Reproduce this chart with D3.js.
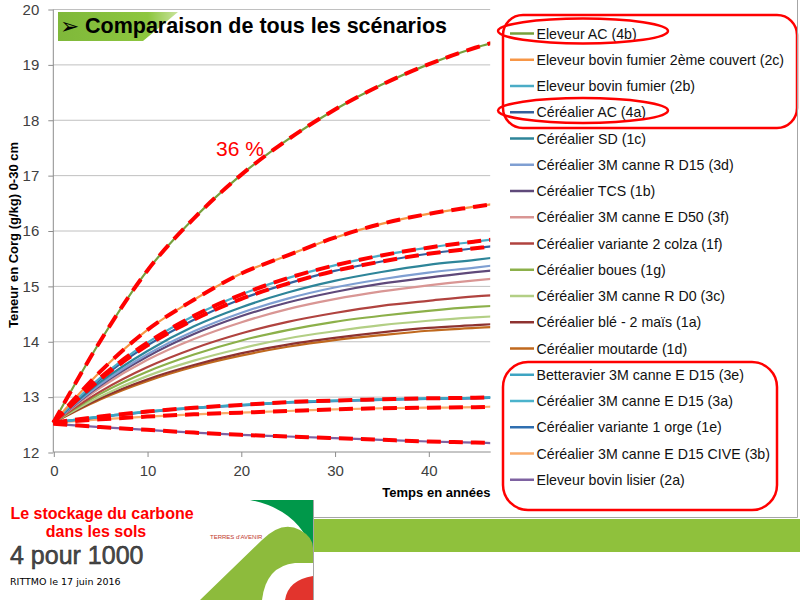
<!DOCTYPE html>
<html><head><meta charset="utf-8">
<script src="https://cdn.jsdelivr.net/npm/d3@7"></script>
<style>body{margin:0;background:#fff}svg{display:block}</style>
</head><body>
<svg id="chart" width="800" height="600"></svg>
<script>
// ---------- DATA ----------
const years = [0, 5, 10, 15, 20, 25, 30, 35, 40, 45, 47];
const seriesNames = [
  "Eleveur AC (4b)", "Eleveur bovin fumier 2ème couvert (2c)", "Eleveur bovin fumier (2b)",
  "Céréalier AC (4a)", "Céréalier SD (1c)", "Céréalier 3M canne R D15 (3d)", "Céréalier TCS (1b)",
  "Céréalier 3M canne E D50 (3f)", "Céréalier variante 2 colza (1f)", "Céréalier boues (1g)",
  "Céréalier 3M canne R D0 (3c)", "Céréalier blé - 2 maïs (1a)", "Céréalier moutarde (1d)",
  "Betteravier 3M canne E D15 (3e)", "Céréalier 3M canne E D15 (3a)", "Céréalier variante 1 orge (1e)",
  "Céréalier 3M canne E D15 CIVE (3b)", "Eleveur bovin lisier (2a)"
];
const seriesColors = [
  "#77a03c", "#f79646", "#4bacc6", "#35609c", "#2e8599", "#7f9fd2", "#5f497a",
  "#d99694", "#b0433f", "#8cb04a", "#b3cf85", "#8e3230", "#c0691e",
  "#3ea4c2", "#4bb3cc", "#2f6fb0", "#f9ab6b", "#7e62a1"
];
const v4b = [12.53, 14.00, 15.27, 16.22, 17.00, 17.64, 18.18, 18.63, 19.00, 19.30, 19.40];
const v2c = [12.53, 13.45, 14.20, 14.75, 15.22, 15.55, 15.87, 16.12, 16.30, 16.43, 16.48];
const v2b = [12.53, 13.34, 13.97, 14.46, 14.84, 15.14, 15.37, 15.55, 15.69, 15.80, 15.84];
const v4a = [12.53, 13.31, 13.92, 14.39, 14.76, 15.04, 15.27, 15.44, 15.58, 15.68, 15.72];
const v1c = [12.53, 13.26, 13.82, 14.27, 14.61, 14.88, 15.09, 15.25, 15.38, 15.47, 15.51];
const v3d = [12.53, 13.22, 13.76, 14.18, 14.51, 14.77, 14.97, 15.12, 15.24, 15.33, 15.37];
const v1b = [12.53, 13.20, 13.72, 14.13, 14.45, 14.70, 14.89, 15.04, 15.15, 15.25, 15.28];
const v3f = [12.53, 13.16, 13.66, 14.04, 14.34, 14.58, 14.76, 14.90, 15.01, 15.10, 15.13];
const v1f = [12.53, 13.09, 13.53, 13.87, 14.14, 14.35, 14.51, 14.64, 14.73, 14.81, 14.83];
const v1g = [12.53, 13.05, 13.45, 13.76, 14.01, 14.20, 14.35, 14.46, 14.55, 14.62, 14.64];
const v3c = [12.53, 13.00, 13.37, 13.65, 13.87, 14.05, 14.18, 14.29, 14.37, 14.43, 14.45];
const v1a = [12.53, 12.97, 13.31, 13.57, 13.78, 13.94, 14.06, 14.16, 14.24, 14.29, 14.31];
const v1d = [12.53, 12.95, 13.28, 13.54, 13.74, 13.90, 14.02, 14.11, 14.19, 14.24, 14.26];
const v3e = [12.53, 12.64, 12.73, 12.80, 12.85, 12.90, 12.93, 12.95, 12.97, 12.98, 12.99];
const v3a = [12.53, 12.64, 12.73, 12.80, 12.85, 12.90, 12.93, 12.95, 12.97, 12.98, 12.99];
const v1e = [12.53, 12.63, 12.72, 12.79, 12.84, 12.89, 12.92, 12.94, 12.96, 12.97, 12.98];
const v3b = [12.53, 12.59, 12.64, 12.68, 12.71, 12.74, 12.77, 12.79, 12.80, 12.81, 12.82];
const v2a = [12.51, 12.45, 12.40, 12.35, 12.31, 12.28, 12.25, 12.22, 12.19, 12.17, 12.16];
const seriesValues = [v4b, v2c, v2b, v4a, v1c, v3d, v1b, v3f, v1f, v1g, v3c, v1a, v1d, v3e, v3a, v1e, v3b, v2a];
// series highlighted by red dashed overlays
const highlighted = ["Eleveur AC (4b)", "Eleveur bovin fumier 2ème couvert (2c)", "Eleveur bovin fumier (2b)",
  "Céréalier AC (4a)", "Betteravier 3M canne E D15 (3e)", "Céréalier 3M canne E D15 CIVE (3b)", "Eleveur bovin lisier (2a)"];
const xTicks = [0, 10, 20, 30, 40];
const yTicks = [12, 13, 14, 15, 16, 17, 18, 19, 20];
const titleText = "Comparaison de tous les scénarios";
const yTitle = "Teneur en Corg (g/kg) 0-30 cm";
const xTitle = "Temps en années";
const annotation = "36 %";

// ---------- BUILD ----------
const series = seriesNames.map((name, i) => ({
  name, color: seriesColors[i],
  points: years.map((t, j) => ({t, v: seriesValues[i][j]}))
}));

const svg = d3.select("#chart");
const W = 800, H = 600;
svg.append("rect").attr("width", W).attr("height", H).attr("fill", "#fff");

const x = d3.scaleLinear().domain([0, 46.6]).range([53.3, 490.2]);
const y = d3.scaleLinear().domain([12, 20]).range([452, 9]);

const defs = svg.append("defs");
defs.append("clipPath").attr("id", "plotclip").append("rect")
  .attr("x", x(0) - 14).attr("y", 0).attr("width", x(46.6) - x(0) + 14).attr("height", 470);
const gradT = defs.append("linearGradient").attr("id", "titleGrad").attr("x1", 0).attr("x2", 1);
gradT.append("stop").attr("offset", 0).attr("stop-color", "#7fb83a");
gradT.append("stop").attr("offset", 0.75).attr("stop-color", "#8dc63f");
gradT.append("stop").attr("offset", 1).attr("stop-color", "#c9e39c");

// gridlines
svg.append("g").selectAll("line").data(yTicks.filter(d => d !== 12)).join("line")
  .attr("x1", x(0)).attr("x2", x(46.6)).attr("y1", d => y(d) + 0.5).attr("y2", d => y(d) + 0.5)
  .attr("stroke", "#c0c0c0").attr("stroke-width", 1);

// axes
const axisFont = "'Liberation Sans', Arial, sans-serif";
const yAxis = svg.append("g").attr("transform", `translate(${x(0)},0.5)`)
  .call(d3.axisLeft(y).tickValues(yTicks).tickSize(5).tickPadding(9).tickFormat(d3.format("d")));
const xAxis = svg.append("g").attr("transform", `translate(0.5,${y(12)})`)
  .call(d3.axisBottom(x).tickValues(xTicks).tickSize(5).tickPadding(8).tickFormat(d3.format("d")));
[yAxis, xAxis].forEach(g => {
  g.select(".domain").attr("stroke", "#8c8c8c");
  g.selectAll(".tick line").attr("stroke", "#8c8c8c");
  g.selectAll(".tick text").attr("fill", "#404040").attr("font-size", 15).attr("font-family", axisFont);
});
xAxis.select(".domain").attr("d", `M${x(0)},0H${x(46.6)}`);
yAxis.select(".domain").attr("d", `M0,${y(20)}V${y(12)}`);

// lines
const line = d3.line().x(d => x(d.t)).y(d => y(d.v)).curve(d3.curveMonotoneX);
const plot = svg.append("g").attr("clip-path", "url(#plotclip)");
const drawOrder = series.slice().reverse();
plot.selectAll("path.s").data(drawOrder).join("path").attr("class", "s")
  .attr("d", d => line(d.points)).attr("fill", "none")
  .attr("stroke", d => d.color).attr("stroke-width", 2.2);
plot.selectAll("path.h").data(series.filter(s => highlighted.includes(s.name))).join("path").attr("class", "h")
  .attr("d", d => line(d.points)).attr("fill", "none")
  .attr("stroke", "#ff0000").attr("stroke-width", 4).attr("stroke-dasharray", "14,8");

// annotation
svg.append("text").attr("x", 216).attr("y", 156).attr("fill", "#ff0000")
  .attr("font-family", axisFont).attr("font-size", 21).text(annotation);

// axis titles
svg.append("text").attr("transform", "translate(18,235) rotate(-90)").attr("text-anchor", "middle")
  .attr("font-family", axisFont).attr("font-weight", "bold").attr("font-size", 13).attr("fill", "#000")
  .text(yTitle);
svg.append("text").attr("x", 490.5).attr("y", 497).attr("text-anchor", "end")
  .attr("font-family", axisFont).attr("font-weight", "bold").attr("font-size", 13).attr("fill", "#000")
  .text(xTitle);

// title
svg.append("path").attr("d", "M58,12H178L143,41H58Z").attr("fill", "url(#titleGrad)");
svg.append("text").attr("x", 60).attr("y", 34).attr("font-family", "'DejaVu Sans', sans-serif")
  .attr("font-size", 23).attr("font-weight", "bold").attr("fill", "#000").text("➢");
svg.append("text").attr("x", 85).attr("y", 33).attr("font-family", axisFont).attr("font-weight", "bold")
  .attr("font-size", 21.5).attr("fill", "#000").text(titleText);

// legend
const legend = svg.append("g");
legend.selectAll("g").data(series).join("g")
  .attr("transform", (d, i) => `translate(0,${33.5 + 26.25 * i})`)
  .each(function (d) {
    const g = d3.select(this);
    g.append("line").attr("x1", 510).attr("x2", 534).attr("stroke", d.color).attr("stroke-width", 2.5);
    g.append("text").attr("x", 536.5).attr("dy", "0.36em").attr("font-family", axisFont)
      .attr("font-size", 14.2).attr("fill", "#111").text(d.name);
  });

// red annotation frames on legend
const redFrames = svg.append("g").attr("fill", "none").attr("stroke", "#ff0000").attr("stroke-width", 2.5);
redFrames.append("rect").attr("x", 503).attr("y", 15).attr("width", 294).attr("height", 113).attr("rx", 20);
redFrames.append("ellipse").attr("cx", 583).attr("cy", 31).attr("rx", 85).attr("ry", 12.5);
redFrames.append("ellipse").attr("cx", 583).attr("cy", 110.5).attr("rx", 85).attr("ry", 12.5);
redFrames.append("rect").attr("x", 503).attr("y", 362).attr("width", 274).attr("height", 148).attr("rx", 25);

// slide frame
svg.append("path").attr("d", "M797.5,0V517.5H313").attr("fill", "none").attr("stroke", "#a6a6a6").attr("stroke-width", 1);
svg.append("rect").attr("x", 313).attr("y", 519).attr("width", 487).attr("height", 33).attr("fill", "#8fc13c");

// bottom-left block
svg.append("rect").attr("x", 0).attr("y", 500).attr("width", 313).attr("height", 100).attr("fill", "#fff");
svg.append("text").attr("x", 102).attr("y", 519).attr("text-anchor", "middle").attr("font-family", axisFont)
  .attr("font-weight", "bold").attr("font-size", 16).attr("fill", "#ff0000").text("Le stockage du carbone");
svg.append("text").attr("x", 96).attr("y", 537).attr("text-anchor", "middle").attr("font-family", axisFont)
  .attr("font-weight", "bold").attr("font-size", 16).attr("fill", "#ff0000").text("dans les sols");
svg.append("text").attr("x", 10).attr("y", 564).attr("font-family", "'Liberation Sans Narrow', 'Liberation Sans', sans-serif")
  .attr("font-size", 25).attr("fill", "#4a4a4a").attr("stroke", "#222").attr("stroke-width", 0.5).text("4 pour 1000");
svg.append("text").attr("x", 10).attr("y", 585).attr("font-family", "'DejaVu Sans', sans-serif")
  .attr("font-size", 9.5).attr("fill", "#000").text("RITTMO le 17 juin 2016");

// logo
const logo = svg.append("g");
logo.append("path").attr("d", "M250,500H313V553Q300,510 250,500Z").attr("fill", "#00984a");
logo.append("path").attr("d", "M200,600L262,540Q282,520 300,530Q313,537 313,548V600Z").attr("fill", "#8dbb3c");
logo.append("path").attr("d", "M262,600Q266,566 295,563H313V600Z").attr("fill", "#fff");
logo.append("path").attr("d", "M285,600Q288,580 313,576V600Z").attr("fill", "#e2342d");
logo.append("text").attr("x", 210).attr("y", 539).attr("font-family", axisFont).attr("font-size", 6)
  .attr("fill", "#c0392b").text("TERRES d'AVENIR");
svg.append("line").attr("x1", 313.5).attr("x2", 313.5).attr("y1", 500).attr("y2", 600).attr("stroke", "#a6a6a6");
</script>
</body></html>
